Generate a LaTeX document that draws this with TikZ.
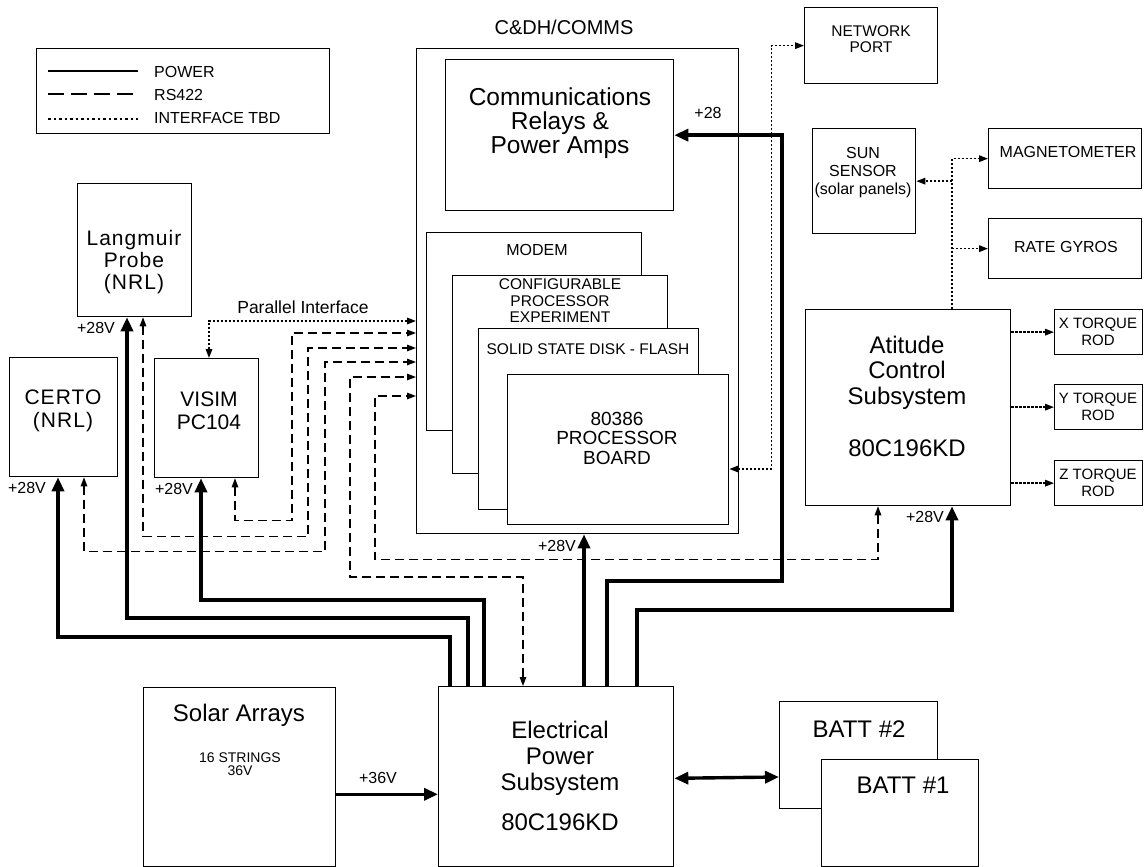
\documentclass[tikz,border=0pt]{standalone}
\usepackage{fontspec}
\setmainfont{Liberation Sans}
\newfontfamily\trackedfont[LetterSpace=5]{Liberation Sans}
\usetikzlibrary{arrows.meta,calc}
\newcommand{\fsz}[2]{\fontsize{#1}{#2}\selectfont}

\begin{document}
\begin{tikzpicture}[x=1pt,y=-1pt,
box/.style={draw,line width=1.3pt,fill=white,inner sep=0pt,anchor=north west},
sz/.style 2 args={minimum width=#1,minimum height=#2},
txt/.style={align=center,inner sep=0pt},
power/.style={line width=3.4pt,-{Triangle[length=14pt,width=12pt]}},
rs/.style={line width=1.3pt,dash pattern=on 9pt off 5pt,{Triangle[length=9pt,width=6.5pt]}-{Triangle[length=9pt,width=6.5pt]}},
tbd/.style={line width=1.6pt,dash pattern=on 2.2pt off 1.8pt},
tip/.style={-{Triangle[length=9pt,width=6.5pt]}},
twoway/.style={{Triangle[length=9pt,width=6.5pt]}-{Triangle[length=9pt,width=6.5pt]}},
every node/.style={font=\fsz{16}{17}}]
\useasboundingbox (0,0) rectangle (1144,867);
% legend
\node[box,sz={293}{85}] (legend) at (36,48) {};
\draw[line width=1.3pt] (48,71) -- (138,71);
\draw[line width=2pt,dash pattern=on 16pt off 7pt] (48,94) -- (138,94);
\draw[line width=2pt,dash pattern=on 2.5pt off 3pt] (48,119) -- (138,119);
\node[anchor=west,inner sep=0pt] (lg-power) at (154,72) {POWER};
\node[anchor=west,inner sep=0pt] (lg-rs) at (154,95) {RS422};
\node[anchor=west,inner sep=0pt] (lg-tbd) at (154,118) {INTERFACE TBD};
% C&DH/COMMS
\node[txt,font=\fsz{20}{20}] (cdh-title) at (564,27) {C\&DH/COMMS};
\node[box,sz={322}{485}] (cdh) at (416,48) {};
\node[box,sz={228}{151}] (comms) at (445,59) {};
\node[txt,font=\fsz{24.5}{24}] (comms-t) at (560,123) {Communications\\Relays \&\\Power Amps};
\node[box,sz={215}{198}] (modem) at (426,232) {};
\node[txt] (modem-t) at (537,250) {MODEM};
\node[box,sz={215}{198}] (config) at (452,275) {};
\node[txt,font=\fsz{15.5}{16.5}] (config-t) at (560,301) {CONFIGURABLE\\PROCESSOR\\EXPERIMENT};
\node[box,sz={220}{181}] (ssd) at (478,328) {};
\node[txt,font=\fsz{15.5}{16.5}] (ssd-t) at (588,349) {SOLID STATE DISK - FLASH};
\node[box,sz={221}{150}] (proc) at (507,374) {};
\node[txt,font=\fsz{19}{19.5}] (proc-t) at (617,438) {80386\\PROCESSOR\\BOARD};
% right side
\node[box,sz={133}{76}] (network) at (804,7) {};
\node[txt,font=\fsz{15.5}{16}] (network-t) at (871,39) {NETWORK\\PORT};
\node[box,sz={103}{105}] (sun) at (812,128) {};
\node[txt,font=\fsz{16}{18}] (sun-t) at (863,173) {SUN\\SENSOR\\(solar panels)};
\node[box,sz={153}{60}] (mag) at (988,128) {};
\node[txt] (mag-t) at (1068,152) {MAGNETOMETER};
\node[box,sz={153}{60}] (gyro) at (988,218) {};
\node[txt] (gyro-t) at (1066,247) {RATE GYROS};
\node[box,sz={205}{196}] (acs) at (805,309) {};
\node[txt,font=\fsz{24}{25.5}] (acs-t) at (907,396) {Atitude\\Control\\Subsystem\\[26.5pt]80C196KD};
\node[box,sz={88}{45}] (xrod) at (1054,309) {};
\node[txt,font=\fsz{15}{17}] (xrod-t) at (1098,331.5) {X TORQUE\\ROD};
\node[box,sz={88}{45}] (yrod) at (1054,384) {};
\node[txt,font=\fsz{15}{17}] (yrod-t) at (1098,406.5) {Y TORQUE\\ROD};
\node[box,sz={88}{45}] (zrod) at (1054,460) {};
\node[txt,font=\fsz{15}{17}] (zrod-t) at (1098,482.5) {Z TORQUE\\ROD};
% experiments
\node[box,sz={114}{133}] (lang) at (77,183) {};
\node[txt,font=\trackedfont\fsz{21}{22}] (lang-t) at (134,262) {Langmuir\\Probe\\(NRL)};
\node[box,sz={108}{119}] (certo) at (9,357) {};
\node[txt,font=\trackedfont\fsz{21}{23}] (certo-t) at (63,411) {CERTO\\(NRL)};
\node[box,sz={104}{119}] (visim) at (154,358) {};
\node[txt,font=\fsz{21}{23}] (visim-t) at (209,411) {VISIM\\PC104};
% power sources
\node[box,sz={192}{179}] (solar) at (143,687) {};
\node[txt,font=\fsz{24}{24}] (solar-t) at (239,715) {Solar Arrays};
\node[txt,font=\fsz{14}{12.5}] (strings-t) at (240,764) {16 STRINGS\\36V};
\node[box,sz={235}{180}] (eps) at (438,686) {};
\node[txt,font=\fsz{24}{26}] (eps-t) at (560,776) {Electrical\\Power\\Subsystem\\[14pt]80C196KD};
\node[box,sz={158}{107}] (batt2) at (779,701) {};
\node[txt,font=\fsz{24}{24}] (batt2-t) at (859,729) {BATT \#2};
\node[box,sz={157}{107}] (batt1) at (821,759) {};
\node[txt,font=\fsz{24}{24}] (batt1-t) at (903,785) {BATT \#1};
% power
\draw[power] ($(eps.north west)+(12,0)$) -- ++(0,-49) -| ($(certo.south west)+(49,0)$);
\draw[power] ($(eps.north west)+(30,0)$) -- ++(0,-68) -| ($(lang.south west)+(50,0)$);
\draw[power] ($(eps.north west)+(46,0)$) -- ++(0,-86) -| ($(visim.south west)+(47,0)$);
\draw[power] ($(eps.north west)+(146,0)$) -- ($(cdh.south west)+(168,0)$);
\draw[power] ($(eps.north west)+(169,0)$) -- ++(0,-105) -- ++(175,0) |- (comms.east);
\draw[power] ($(eps.north west)+(199,0)$) -- ++(0,-76) -| ($(acs.south west)+(147,0)$);
\draw[power] ($(solar.south east)+(0,-73)$) -- ($(eps.south west)+(0,-73)$);
\draw[power,{Triangle[length=14pt,width=12pt]}-{Triangle[length=14pt,width=12pt]}] ($(eps.south east)+(0,-89)$) -- ($(batt2.north west)+(0,76)$);
\node (v-lang) at (96,328) {+28V};
\node (v-certo) at (27,488) {+28V};
\node (v-visim) at (174,489) {+28V};
\node (v-cdh) at (557,546) {+28V};
\node (v-acs) at (925,517) {+28V};
\node (v-comms) at (708,113) {+28};
\node (v-solar) at (378,778) {+36V};
% RS422
\draw[rs] ($(visim.south west)+(81,0)$) |- ++(57,42) |- ($(cdh.north west)+(0,285)$);
\draw[rs] ($(lang.south west)+(66,0)$) |- ++(165,219) |- ($(cdh.north west)+(0,300)$);
\draw[rs] ($(certo.south west)+(75,0)$) |- ++(241,74) |- ($(cdh.north west)+(0,314)$);
\draw[rs] ($(eps.north west)+(85,0)$) |- ++(-173,-109) |- ($(cdh.north west)+(0,329)$);
\draw[rs] ($(acs.south west)+(73,0)$) |- ++(-503,53) |- ($(cdh.north west)+(0,348)$);
% interface TBD
\draw[tbd,twoway] ($(visim.north west)+(55,0)$) |- ($(cdh.north west)+(0,273)$);
\node[font=\fsz{17.5}{18}] (parallel) at (303,307) {Parallel Interface};
\draw[tbd,twoway] ($(proc.north east)+(0,95)$) -- ++(42,0) |- (network.west);
\coordinate (acsbus) at ($(acs.north west)+(147,0)$);
\draw[tbd,tip] (acsbus) |- (mag.west);
\draw[tbd,tip] (acsbus |- sun.east) -- (sun.east);
\draw[tbd,tip] (acsbus |- gyro.west) -- (gyro.west);
\draw[tbd,tip] (acs.east |- xrod.west) -- (xrod.west);
\draw[tbd,tip] (acs.east |- yrod.west) -- (yrod.west);
\draw[tbd,tip] (acs.east |- zrod.west) -- (zrod.west);
\end{tikzpicture}
\end{document}
